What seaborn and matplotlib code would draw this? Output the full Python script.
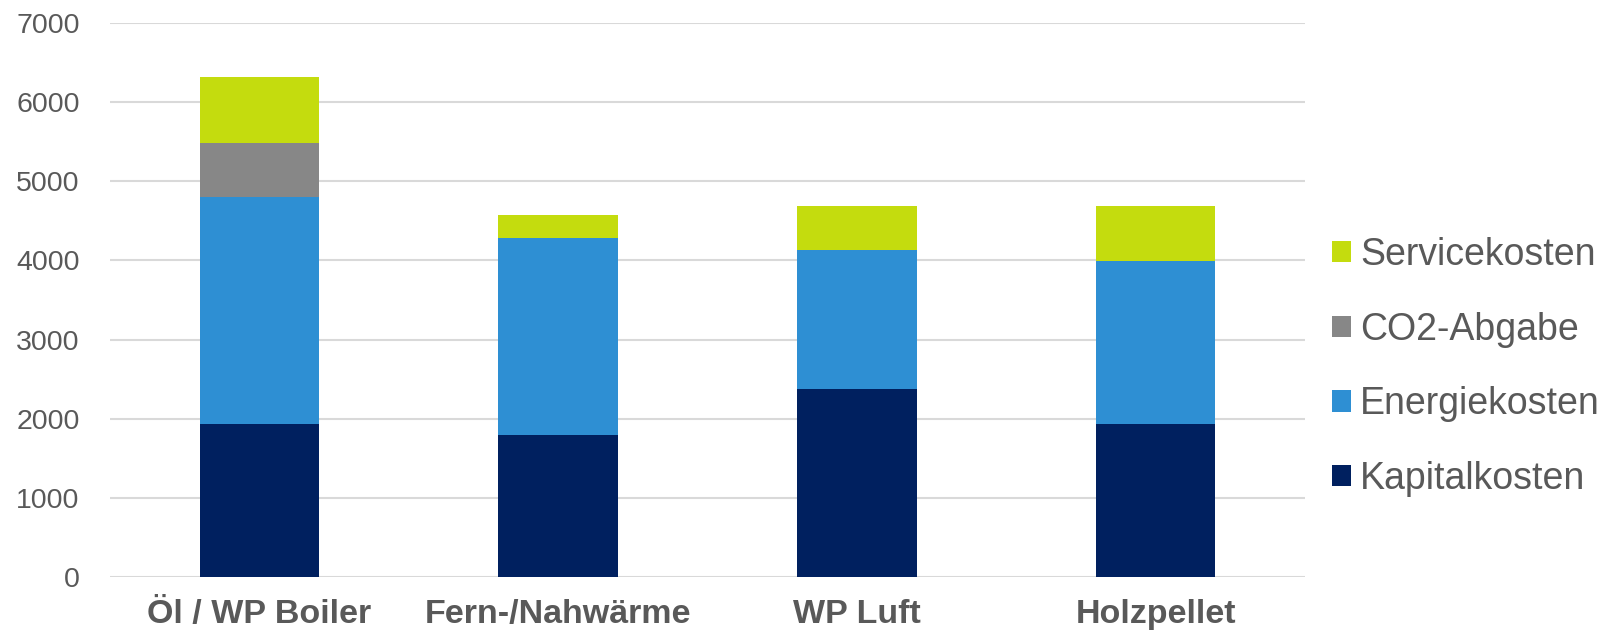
import matplotlib
matplotlib.use('Agg')
import matplotlib.pyplot as plt
import seaborn as sns
import pandas as pd
from matplotlib.patches import Patch

categories = ['Öl / WP Boiler', 'Fern-/Nahwärme', 'WP Luft', 'Holzpellet']
kapitalkosten = [1930, 1790, 2370, 1930]
energiekosten = [2870, 2490, 1760, 2060]
co2_abgabe = [680, 0, 0, 0]
servicekosten = [840, 290, 560, 700]

series = ['Kapitalkosten', 'Energiekosten', 'CO2-Abgabe', 'Servicekosten']
colors = {'Kapitalkosten': '#00205F', 'Energiekosten': '#2E8FD3',
          'CO2-Abgabe': '#878787', 'Servicekosten': '#C4DC0E'}

df = pd.DataFrame({'category': categories, 'Kapitalkosten': kapitalkosten,
                   'Energiekosten': energiekosten, 'CO2-Abgabe': co2_abgabe,
                   'Servicekosten': servicekosten})
# cumulative tops for stacking
cum = df[series].cumsum(axis=1)
cum['category'] = df['category']

sns.set_theme(style='white')
plt.rcParams['font.family'] = ['Liberation Sans', 'DejaVu Sans']
text_color = '#595959'

fig = plt.figure(figsize=(16.02, 6.31), dpi=100)
ax = fig.add_axes([0.0687, 0.0856, 0.8146 - 0.0687, 0.9636 - 0.0856])

# draw from the top segment down so lower layers cover upper ones
for s in reversed(series):
    sns.barplot(data=cum, x='category', y=s, color=colors[s], width=0.4,
                linewidth=0, saturation=1, ax=ax, zorder=3, errorbar=None)

ax.set_ylim(0, 7000)
ax.set_yticks(range(0, 7001, 1000))
ax.yaxis.grid(True, color='#D9D9D9', linewidth=1.5, zorder=0)
ax.set_axisbelow(True)
for sp in ax.spines.values():
    sp.set_visible(False)
ax.set_xlabel('')
ax.set_ylabel('')
ax.tick_params(axis='y', length=0, pad=22, labelsize=20.5, labelcolor=text_color)
ax.tick_params(axis='x', length=0, pad=16, labelsize=24.5, labelcolor=text_color)
for lbl in ax.get_xticklabels():
    lbl.set_fontweight('bold')

handles = [Patch(facecolor=colors[s], edgecolor='none') for s in reversed(series)]
fig.legend(handles, list(reversed(series)), loc='center left',
           bbox_to_anchor=(1332 / 1602, 1 - 367 / 631), frameon=False,
           fontsize=27, labelcolor=text_color, borderpad=0, borderaxespad=0,
           labelspacing=1.03, handlelength=0.5, handleheight=0.5,
           handletextpad=0.25)

fig.savefig('out.png', dpi=100)
